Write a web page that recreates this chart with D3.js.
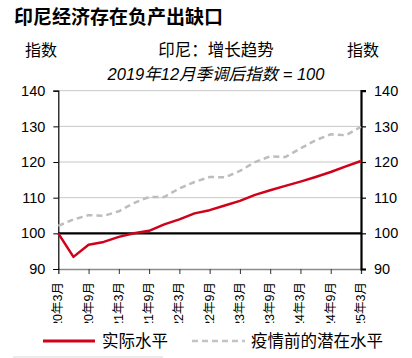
<!DOCTYPE html>
<html>
<head>
<meta charset="utf-8">
<script src="https://cdn.jsdelivr.net/npm/d3@7"></script>
<style>
  body { margin: 0; background: #fff; }
  svg { display: block; font-family: "Liberation Sans", Arial, "Noto Sans CJK SC", sans-serif; }
</style>
</head>
<body>
<div class="chart"></div>
<script>
// quarterly categories, 2020Q1 .. 2025Q1
const quarters = ['2020年3月','2020年6月','2020年9月','2020年12月','2021年3月','2021年6月','2021年9月','2021年12月',
  '2022年3月','2022年6月','2022年9月','2022年12月','2023年3月','2023年6月','2023年9月','2023年12月',
  '2024年3月','2024年6月','2024年9月','2024年12月','2025年3月'];
const actual = [100, 93.4, 96.8, 97.6, 99.0, 100.0, 100.7, 102.5, 103.9, 105.6, 106.5, 107.8, 109.1, 110.8,
  112.1, 113.3, 114.5, 115.8, 117.2, 118.8, 120.3];
const potential = [102.1, 103.9, 105.1, 104.9, 106.2, 108.5, 110.2, 110.2, 112.6, 114.4, 115.8, 115.7, 117.5,
  120.0, 121.6, 121.4, 123.8, 126.1, 127.8, 127.5, 129.9];
const yTicks = [90, 100, 110, 120, 130, 140];
const legendNames = ['实际水平', '疫情前的潜在水平'];

const W = 412, H = 358;
const svg = d3.select('.chart').append('svg')
  .attr('width', W).attr('height', H);

const x = d3.scalePoint().domain(quarters).range([58.3, 361]);
const y = d3.scaleLinear().domain([90, 140]).range([269, 90.7]);

// titles
svg.append('text').attr('x', 14).attr('y', 24)
  .attr('font-size', 19).attr('font-weight', 'bold').attr('fill', '#000')
  .text('印尼经济存在负产出缺口');
svg.append('text').attr('x', 25).attr('y', 56).attr('font-size', 16).text('指数');
svg.append('text').attr('x', 347).attr('y', 56).attr('font-size', 16).text('指数');
svg.append('text').attr('x', 216).attr('y', 56).attr('font-size', 16.5)
  .attr('text-anchor', 'middle').text('印尼：增长趋势');
svg.append('text').attr('x', 216).attr('y', 80).attr('font-size', 16.5)
  .attr('font-style', 'italic').attr('text-anchor', 'middle')
  .text('2019年12月季调后指数 = 100');

// gridlines
svg.append('g').selectAll('line')
  .data(yTicks.filter(d => d > 100))
  .join('line')
  .attr('x1', x.range()[0]).attr('x2', x.range()[1])
  .attr('y1', d => y(d)).attr('y2', d => y(d))
  .attr('stroke', '#c8c8c8').attr('stroke-width', 1);

// bottom axis
const xAxis = svg.append('g')
  .attr('transform', `translate(0,${y(90)})`)
  .call(d3.axisBottom(x).tickSize(5).tickFormat('')
    .tickValues(quarters.filter((d, i) => i % 2 === 0)));
xAxis.select('.domain').attr('stroke', '#8c8c8c').attr('stroke-width', 1.5);
xAxis.selectAll('.tick line').attr('stroke', '#333');

// rotated, clipped date labels
svg.append('clipPath').attr('id', 'xclip')
  .append('rect').attr('x', 0).attr('y', 274).attr('width', W).attr('height', 49);
svg.append('g').attr('clip-path', 'url(#xclip)')
  .selectAll('text')
  .data(quarters.filter((d, i) => i % 2 === 0))
  .join('text')
  .attr('transform', d => `translate(${x(d) + 4},282) rotate(-90)`)
  .attr('text-anchor', 'end')
  .attr('font-size', 12.5)
  .attr('fill', '#000')
  .text(d => d);

// left axis
const yl = svg.append('g')
  .attr('transform', `translate(${x.range()[0]},0)`)
  .call(d3.axisLeft(y).tickValues(yTicks).tickSize(5).tickPadding(8));
yl.select('.domain').attr('stroke', '#000').attr('stroke-width', 1.2);
yl.selectAll('text').attr('font-size', 14.5).attr('fill', '#000')
  .attr('font-family', '"Liberation Sans", Arial, sans-serif');

// right axis
const yr = svg.append('g')
  .attr('transform', `translate(${x.range()[1]},0)`)
  .call(d3.axisRight(y).tickValues(yTicks).tickSize(5).tickPadding(8));
yr.select('.domain').attr('stroke', '#000').attr('stroke-width', 2.2);
yr.selectAll('.tick line').attr('stroke-width', 1.2);
yr.selectAll('text').attr('font-size', 14.5).attr('fill', '#000')
  .attr('font-family', '"Liberation Sans", Arial, sans-serif');

// 100 baseline
svg.append('line')
  .attr('x1', x.range()[0]).attr('x2', x.range()[1])
  .attr('y1', y(100)).attr('y2', y(100))
  .attr('stroke', '#000').attr('stroke-width', 2.2);

const line = d3.line()
  .x((d, i) => x(quarters[i]))
  .y(d => y(d));

svg.append('path').datum(potential)
  .attr('d', line)
  .attr('fill', 'none')
  .attr('stroke', '#bdbdbd')
  .attr('stroke-width', 2.5)
  .attr('stroke-dasharray', '6,4');

svg.append('path').datum(actual)
  .attr('d', line)
  .attr('fill', 'none')
  .attr('stroke', '#d0021b')
  .attr('stroke-width', 2.5)
  .attr('stroke-linejoin', 'round');

// legend
const lg = svg.append('g');
lg.append('line').attr('x1', 43).attr('x2', 95).attr('y1', 341).attr('y2', 341)
  .attr('stroke', '#d0021b').attr('stroke-width', 3);
lg.append('text').attr('x', 102).attr('y', 347).attr('font-size', 16.5).text(legendNames[0]);
lg.append('line').attr('x1', 192).attr('x2', 245).attr('y1', 341).attr('y2', 341)
  .attr('stroke', '#c4c4c4').attr('stroke-width', 2.5).attr('stroke-dasharray', '6,4');
lg.append('text').attr('x', 251).attr('y', 347).attr('font-size', 16.5).text(legendNames[1]);
lg.append('line').attr('x1', 13).attr('x2', 163).attr('y1', 357).attr('y2', 357)
  .attr('stroke', '#e6e6e6').attr('stroke-width', 1.5);
</script>
</body>
</html>
